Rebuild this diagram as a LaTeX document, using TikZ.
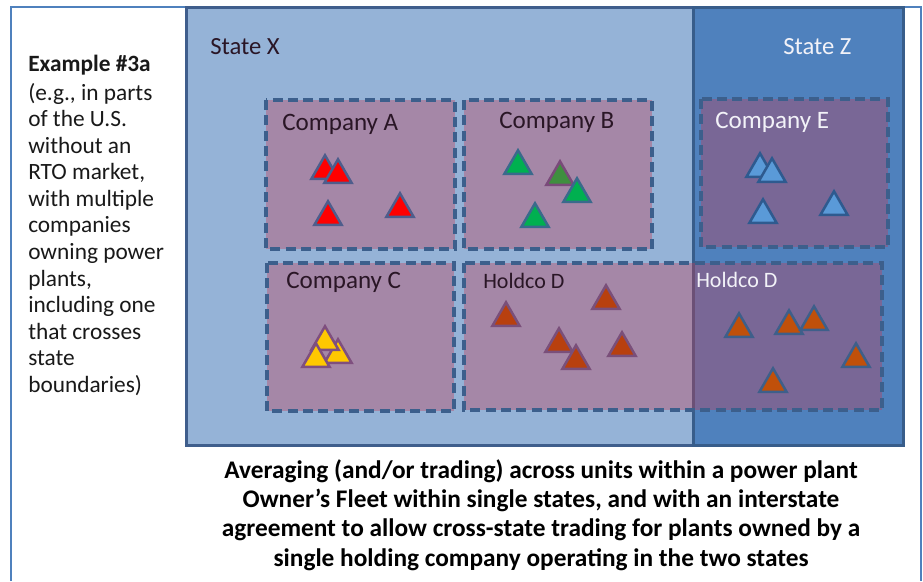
\documentclass[tikz,border=0pt]{standalone}
\usepackage{fontspec}
\setmainfont{Carlito}
\usetikzlibrary{shapes.geometric}
\definecolor{framecol}{HTML}{4F81BD}
\definecolor{sxfill}{HTML}{95B3D7}
\definecolor{sxdraw}{HTML}{3F5E8C}
\definecolor{szfill}{HTML}{4F81BD}
\definecolor{szdraw}{HTML}{385D8A}
\definecolor{cofill}{RGB}{195,60,85}
\definecolor{codraw}{HTML}{3C5F8C}
\definecolor{labdark}{HTML}{2A1626}
\definecolor{labwhite}{HTML}{F2F2F8}
\definecolor{redf}{HTML}{FF0000}
\definecolor{redd}{HTML}{4E5D8C}
\definecolor{greenf}{HTML}{00B050}
\definecolor{greend}{HTML}{3A6A8C}
\definecolor{dgreenf}{HTML}{3F8F3F}
\definecolor{dgreend}{HTML}{7A4A7A}
\definecolor{yellowf}{HTML}{FFC800}
\definecolor{yellowd}{HTML}{7F4F7F}
\definecolor{brownf}{HTML}{B8400F}
\definecolor{brownd}{HTML}{7A4F7A}
\definecolor{bluef}{HTML}{5A9AD8}
\definecolor{blued}{HTML}{2E5A8F}
\definecolor{orangef}{HTML}{C0500A}
\definecolor{oranged}{HTML}{3E5F8A}
\begin{document}
\begin{tikzpicture}[x=0.75pt,y=-0.75pt,
  frameline/.style={draw=framecol,line width=1.5pt},
  statex/.style={fill=sxfill,draw=sxdraw,line width=2.25pt},
  statez/.style={fill=szfill,draw=szdraw,line width=2.25pt},
  cobox/.style={fill=cofill,fill opacity=0.37,draw=codraw,draw opacity=1,line width=2.5pt,dash pattern=on 7.5pt off 4pt},
  statelab/.style={font=\fontsize{18.5}{21}\selectfont,anchor=base west,inner sep=0pt},
  colab/.style={font=\fontsize{18.8}{21}\selectfont,anchor=base west,inner sep=0pt,text=labdark},
  hdlab/.style={font=\fontsize{16.5}{19}\selectfont,anchor=base west,inner sep=0pt},
  plant/.style={regular polygon,regular polygon sides=3,minimum size=23.5pt,inner sep=0pt,outer sep=0pt,line width=1.9pt},
]
\useasboundingbox (0,0) rectangle (923,581);
\fill[white] (0,0) rectangle (923,581);
% outer frame
\draw[frameline] (11,581) -- (11,7) -- (921,7) -- (921,581);
% states
\draw[statex] (186,8) rectangle (693,445);
\draw[statez] (693,8) rectangle (903,445);
\node[statelab,text=labdark] (sx) at (210,55) {State X};
\node[statelab,text=labwhite] (sz) at (783,55) {State Z};
% company boxes
\draw[cobox] (266,100) rectangle (455,249);
\draw[cobox] (464,100) rectangle (652,249);
\draw[cobox] (701,99) rectangle (888,247);
\draw[cobox] (267,263) rectangle (454,411);
\draw[cobox] (464,263) rectangle (882,410);
\node[colab] (ca) at (282,131) {Company A};
\node[colab] (cb) at (499,129) {Company B};
\node[colab,text=labwhite] (ce) at (715,129) {Company E};
\node[colab] (cc) at (286,288) {Company C};
\node[hdlab,text=labdark] (hd1) at (483,288) {Holdco D};
\node[hdlab,text=labwhite] (hd2) at (696,287) {Holdco D};
% Company A plants
\node[plant,fill=redf,draw=redd] (a1) at (325,171) {};
\node[plant,fill=redf,draw=redd] (a2) at (338,175) {};
\node[plant,fill=redf,draw=redd] (a3) at (328,217) {};
\node[plant,fill=redf,draw=redd] (a4) at (400,209) {};
% Company B plants
\node[plant,fill=greenf,draw=greend] (b1) at (518,166) {};
\node[plant,fill=dgreenf,draw=dgreend] (b2) at (560,177) {};
\node[plant,fill=greenf,draw=greend] (b3) at (577,194) {};
\node[plant,fill=greenf,draw=greend] (b4) at (535,219) {};
% Company E plants
\node[plant,fill=bluef,draw=blued] (e1) at (760,169) {};
\node[plant,fill=bluef,draw=blued] (e2) at (772,174) {};
\node[plant,fill=bluef,draw=blued] (e3) at (763,215) {};
\node[plant,fill=bluef,draw=blued] (e4) at (834,207) {};
% Company C plants
\node[plant,fill=yellowf,draw=yellowd] (c1) at (338,355) {};
\node[plant,fill=yellowf,draw=yellowd] (c2) at (325,342) {};
\node[plant,fill=yellowf,draw=yellowd] (c3) at (316,359) {};
% Holdco D plants in State X
\node[plant,fill=brownf,draw=brownd] (d1) at (506,318) {};
\node[plant,fill=brownf,draw=brownd] (d2) at (606,301) {};
\node[plant,fill=brownf,draw=brownd] (d3) at (559,344) {};
\node[plant,fill=brownf,draw=brownd] (d4) at (576,361) {};
\node[plant,fill=brownf,draw=brownd] (d5) at (622,348) {};
% Holdco D plants in State Z
\node[plant,fill=orangef,draw=oranged] (z1) at (739,329) {};
\node[plant,fill=orangef,draw=oranged] (z2) at (789,326) {};
\node[plant,fill=orangef,draw=oranged] (z3) at (814,322) {};
\node[plant,fill=orangef,draw=oranged] (z4) at (856,359) {};
\node[plant,fill=orangef,draw=oranged] (z5) at (773,384) {};
% left text
\node[anchor=base west,inner sep=0pt,font=\fontsize{17.5}{19.9}\selectfont\bfseries,text=black!90] (ex) at (28,72) {Example \#3a};
\node[anchor=north west,inner sep=0pt,align=left,font=\fontsize{17.5}{19.9}\selectfont,text=black!90] (desc) at (28,83) {(e.g., in parts\\of the U.S.\\without an\\RTO market,\\with multiple\\companies\\owning power\\plants,\\including one\\that crosses\\state\\boundaries)};
% bottom caption
\node[anchor=north,inner sep=0pt,align=center,font=\fontsize{19}{22}\selectfont\bfseries] (cap) at (541,459) {Averaging (and/or trading) across units within a power plant\\Owner’s Fleet within single states, and with an interstate\\agreement to allow cross-state trading for plants owned by a\\single holding company operating in the two states};
\end{tikzpicture}
\end{document}
